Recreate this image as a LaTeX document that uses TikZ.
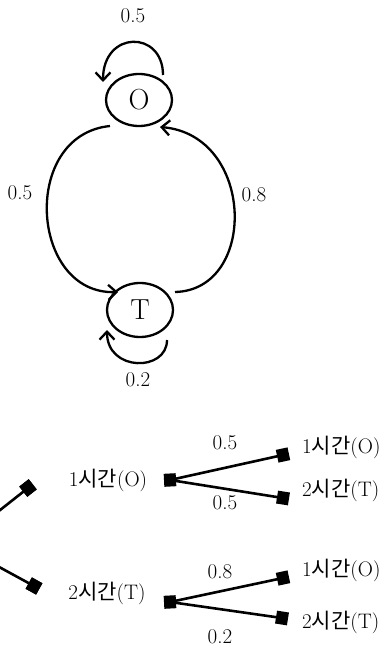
\documentclass[tikz,border=0pt]{standalone}
\usepackage{fontspec}
\newfontfamily\kr{Noto Sans CJK KR}
\usetikzlibrary{shapes.geometric,arrows.meta,calc}
\tikzset{
  state/.style={ellipse,draw,line width=2.3pt,inner sep=0pt,minimum width=66pt,minimum height=52pt,font=\fontsize{29}{32}\selectfont},
  edge/.style={line width=2.3pt,-{Straight Barb[length=8pt,width=15pt,line width=2.3pt]}},
  prob/.style={font=\fontsize{21}{24}\selectfont,inner sep=0pt},
  sq/.style={fill=black,draw=none,minimum width=12pt,minimum height=13pt,inner sep=0pt},
  branch/.style={line width=2.6pt},
  lab/.style={font=\fontsize{21}{24}\selectfont,inner sep=0pt}
}
\begin{document}
\begin{tikzpicture}[x=1pt,y=-1pt]
\useasboundingbox (0,0) rectangle (389,650);
\clip (0,0) rectangle (389,650);
% Markov chain
\node[state] (O) at (139,100) {O};
\node[state,minimum height=54pt] (T) at (140,310) {T};
\coordinate (o1) at ($(O.center)+(24,-25)$);
\coordinate (o2) at ($(O.center)+(-36,-18)$);
\coordinate (t1) at ($(T.center)+(27,30)$);
\coordinate (t2) at ($(T.center)+(-33,20)$);
\coordinate (ol) at ($(O.center)+(-29,26)$);
\coordinate (or) at ($(O.center)+(21,27)$);
\coordinate (tl) at ($(T.center)+(-22,-18)$);
\coordinate (tr) at ($(T.center)+(35,-18)$);
\draw[edge] (o1) .. controls ($(o1)+(0,-45)$) and ($(o2)+(0,-52)$) .. (o2);
\draw[edge] (t1) .. controls ($(t1)+(0,32)$) and ($(t2)+(0,42)$) .. (t2);
\draw[edge] (ol) .. controls (20,135) and (30,295) .. (tl);
\draw[edge] (tr) .. controls (258,290) and (255,135) .. (or);
\node[prob] (p1) at (133,16) {0.5};
\node[prob] (p2) at (20,193) {0.5};
\node[prob] (p3) at (254,195) {0.8};
\node[prob] (p4) at (138,380) {0.2};
% tree
\coordinate (root) at (-43,544);
\node[sq,rotate=38] (a) at (28,488) {};
\node[sq,rotate=-29] (b) at (34,586) {};
\node[sq,rotate=3] (m1) at (170,480) {};
\node[sq,rotate=3] (m2) at (170,602) {};
\node[sq,rotate=12] (l1) at (283,455) {};
\node[sq,rotate=-9] (l2) at (283,498) {};
\node[sq,rotate=12] (l3) at (283,578) {};
\node[sq,rotate=-9] (l4) at (282,618) {};
\draw[branch] (root) -- (a.center);
\draw[branch] (root) -- (b.center);
\draw[branch] (m1.center) -- (l1.center);
\draw[branch] (m1.center) -- (l2.center);
\draw[branch] (m2.center) -- (l3.center);
\draw[branch] (m2.center) -- (l4.center);
\node[sq,rotate=38] at (a) {};
\node[sq,rotate=-29] at (b) {};
\node[lab] (n1) at (108,480) {1{\kr 시간}(O)};
\node[lab] (n2) at (107,593) {2{\kr 시간}(T)};
\node[lab,anchor=west] (k1) at (302,447) {1{\kr 시간}(O)};
\node[lab,anchor=west] (k2) at (302,490) {2{\kr 시간}(T)};
\node[lab,anchor=west] (k3) at (302,570) {1{\kr 시간}(O)};
\node[lab,anchor=west] (k4) at (302,622) {2{\kr 시간}(T)};
\node[prob] (q1) at (225,443) {0.5};
\node[prob] (q2) at (225,503) {0.5};
\node[prob] (q3) at (220,572) {0.8};
\node[prob] (q4) at (220,637) {0.2};
\end{tikzpicture}
\end{document}
